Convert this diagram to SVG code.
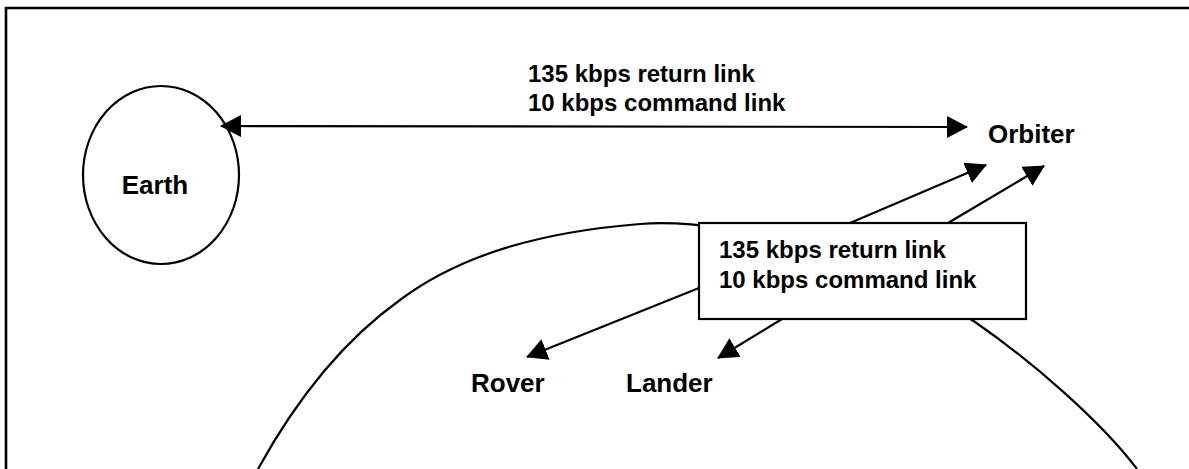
<svg xmlns="http://www.w3.org/2000/svg" width="1189" height="469" viewBox="0 0 1189 469">
<style>
.ln{stroke:#000;stroke-width:2.2;fill:none}
.fr{stroke:#000;stroke-width:2.6;fill:none}
.lbl{font-family:"Liberation Sans",Arial,Helvetica,sans-serif;font-weight:bold;fill:#000}
.nm{font-size:26px}
.lk{font-size:24px}
</style>
<defs>
<marker id="ah" viewBox="0 0 21 22" refX="20" refY="11" markerWidth="21" markerHeight="22" markerUnits="userSpaceOnUse" orient="auto-start-reverse">
<path d="M0,0 L21,11 L0,22 z" fill="#000"/>
</marker>
</defs>
<rect width="1189" height="469" fill="#fff"/>
<path class="fr" d="M6,469 L6,8 L1189,8"/>
<g id="mars-surface">
<path class="ln" d="M258,469 C285,420 330,350 400,300 C460,255 540,232 640,224 C740,216 900,270 975,322 C1030,360 1100,420 1137,469"/>
</g>
<g id="earth">
<ellipse class="ln" cx="161" cy="175" rx="78" ry="89"/>
<text class="lbl nm" x="155" y="194" text-anchor="middle">Earth</text>
</g>
<g id="orbiter">
<text class="lbl nm" x="988" y="143">Orbiter</text>
</g>
<g id="rover">
<text class="lbl nm" x="471" y="392">Rover</text>
</g>
<g id="lander">
<text class="lbl nm" x="626" y="392">Lander</text>
</g>
<g id="connectors">
<line class="ln" x1="221" y1="126" x2="967" y2="127" marker-start="url(#ah)" marker-end="url(#ah)"/>
<line class="ln" x1="850" y1="223" x2="986" y2="165" marker-end="url(#ah)"/>
<line class="ln" x1="948" y1="223" x2="1044" y2="166" marker-end="url(#ah)"/>
<line class="ln" x1="699" y1="288" x2="527" y2="357" marker-end="url(#ah)"/>
<line class="ln" x1="782" y1="319" x2="718" y2="358" marker-end="url(#ah)"/>
</g>
<g id="earth-link-label">
<text class="lbl lk" x="528" y="82">135 kbps return link</text>
<text class="lbl lk" x="528" y="111">10 kbps command link</text>
</g>
<g id="relay-box">
<rect x="699" y="223" width="327" height="96" fill="#fff" stroke="#000" stroke-width="2.2"/>
<text class="lbl lk" x="719" y="258">135 kbps return link</text>
<text class="lbl lk" x="719" y="288">10 kbps command link</text>
</g>
</svg>
